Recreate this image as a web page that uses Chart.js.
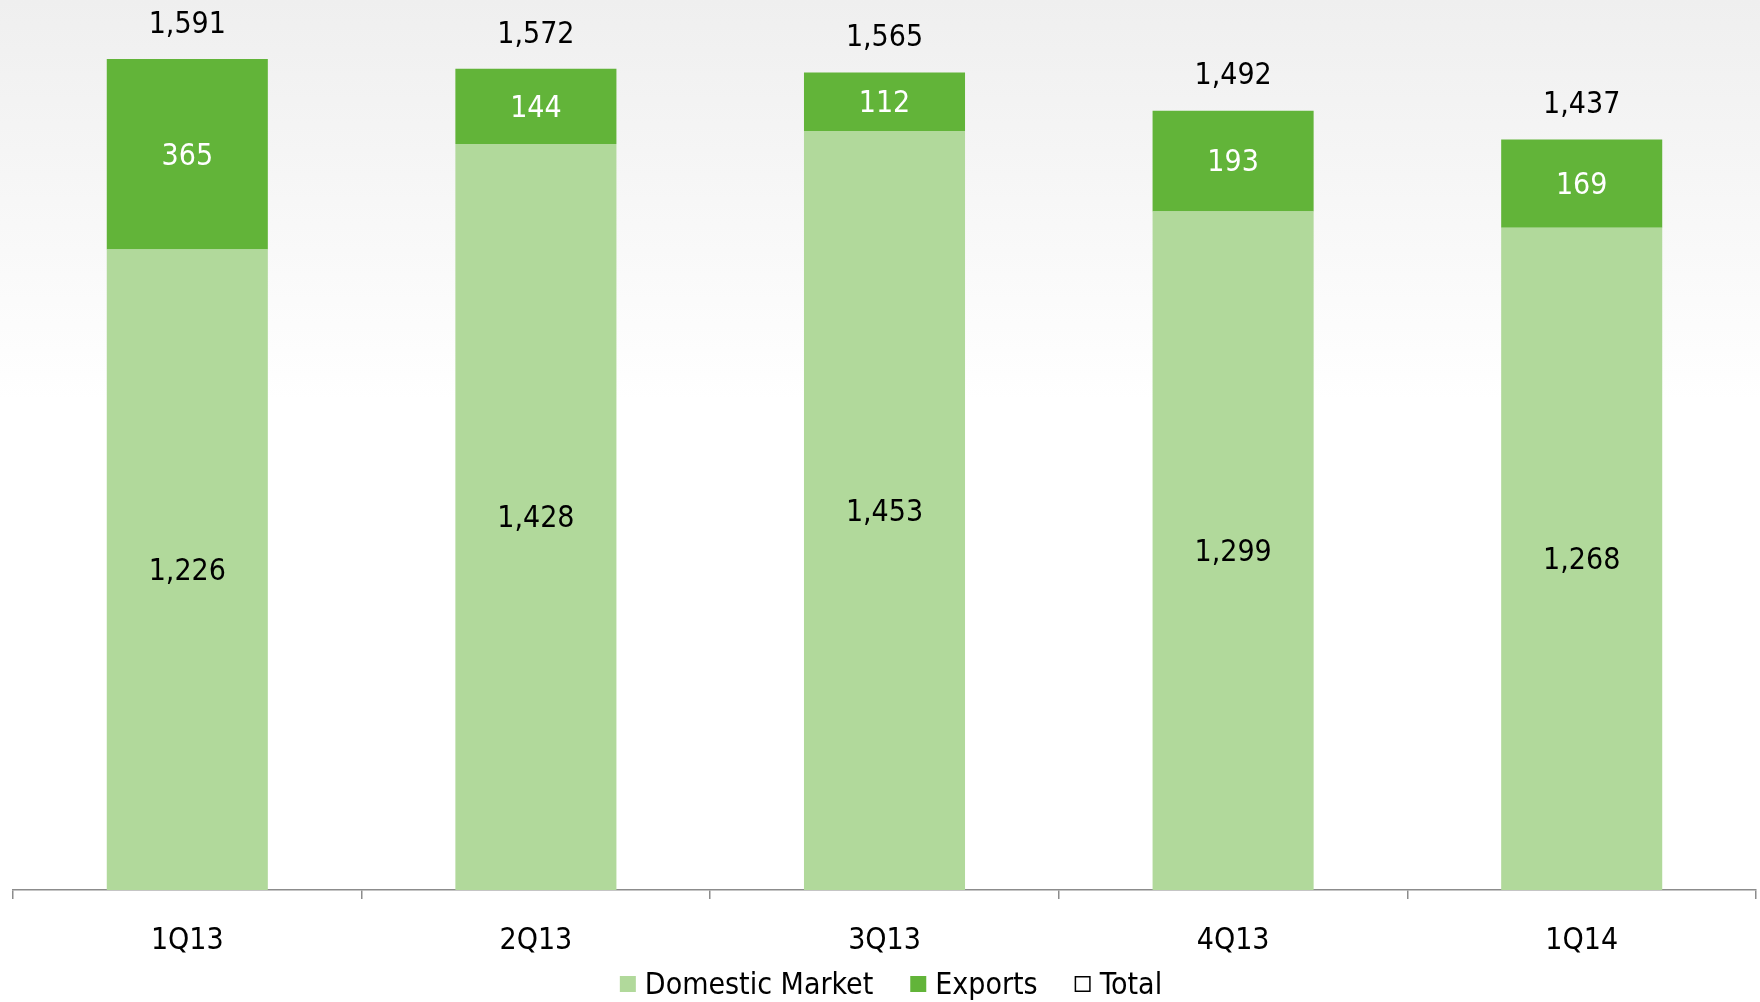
<!DOCTYPE html>
<html>
<head>
<meta charset="utf-8">
<style>
  html, body { margin: 0; padding: 0; background: #fff; }
  #wrap { width: 1760px; height: 1002px; position: relative; }
</style>
<script src="https://cdn.jsdelivr.net/npm/chart.js@4.4.1/dist/chart.umd.min.js"></script>
</head>
<body>
<div id="wrap"><canvas id="salesChart" width="1760" height="1002"></canvas></div>
<script>
const quarters = ["1Q13", "2Q13", "3Q13", "4Q13", "1Q14"];
const domestic = [1226, 1428, 1453, 1299, 1268];
const exportsVol = [365, 144, 112, 193, 169];
const totals = [1591, 1572, 1565, 1492, 1437];

const FONT = "'DejaVu Sans Condensed', 'DejaVu Sans', sans-serif";
const LIGHT = "#b1d99b";
const DARK = "#62b439";

function fmt(v) {
  return v.toLocaleString("en-US");
}

// soft grey wash at the top of the slide
const backdrop = {
  id: "backdrop",
  beforeDraw(chart) {
    const ctx = chart.ctx;
    const g = ctx.createLinearGradient(0, 0, 0, 400);
    g.addColorStop(0, "#efefef");
    g.addColorStop(1, "#ffffff");
    ctx.save();
    ctx.fillStyle = g;
    ctx.fillRect(0, 0, chart.width, chart.height);
    ctx.restore();
  }
};

// value labels inside the segments and totals above the stacks
const valueLabels = {
  id: "valueLabels",
  afterDatasetsDraw(chart) {
    const ctx = chart.ctx;
    ctx.save();
    ctx.font = "30px " + FONT;
    ctx.textAlign = "center";
    ctx.textBaseline = "middle";
    chart.data.datasets.forEach((ds, i) => {
      const meta = chart.getDatasetMeta(i);
      meta.data.forEach((el, j) => {
        const v = ds.data[j];
        if (ds.type === "line") {
          ctx.fillStyle = "#000";
          ctx.fillText(fmt(v), el.x, el.y - 34);
        } else {
          ctx.fillStyle = ds.labelColor;
          ctx.fillText(fmt(v), el.x, (el.y + el.base) / 2 + 2.5);
        }
      });
    });
    ctx.restore();
  }
};

// compact legend row under the axis (box, small gap, text)
const bottomLegend = {
  id: "bottomLegend",
  afterDraw(chart) {
    const ctx = chart.ctx;
    const box = 16, gap = 9, spacing = 37;
    ctx.save();
    ctx.font = "30px " + FONT;
    ctx.textBaseline = "middle";
    const items = chart.data.datasets.map(ds => ({
      text: ds.label,
      fill: ds.legendFill,
      stroke: ds.legendStroke,
      w: box + gap + ctx.measureText(ds.label).width
    }));
    const total = items.reduce((s, it) => s + it.w, 0) + spacing * (items.length - 1);
    let x = chart.width / 2 + 11 - total / 2;
    const y = chart.height - 18;
    items.forEach(it => {
      ctx.fillStyle = it.fill;
      ctx.fillRect(x, y - box / 2, box, box);
      if (it.stroke) {
        ctx.strokeStyle = it.stroke;
        ctx.lineWidth = 1.5;
        ctx.strokeRect(x + 0.75, y - box / 2 + 0.75, box - 1.5, box - 1.5);
      }
      ctx.fillStyle = "#000";
      ctx.fillText(it.text, x + box + gap, y + 2);
      x += it.w + spacing;
    });
    ctx.restore();
  }
};

new Chart(document.getElementById("salesChart"), {
  data: {
    labels: quarters,
    datasets: [
      {
        type: "bar",
        label: "Domestic Market",
        data: domestic,
        backgroundColor: LIGHT,
        legendFill: LIGHT,
        labelColor: "#000",
        barPercentage: 0.462,
        categoryPercentage: 1
      },
      {
        type: "bar",
        label: "Exports",
        data: exportsVol,
        backgroundColor: DARK,
        legendFill: DARK,
        labelColor: "#fff",
        barPercentage: 0.462,
        categoryPercentage: 1
      },
      {
        type: "line",
        label: "Total",
        data: totals,
        showLine: false,
        pointRadius: 0,
        borderColor: "#000",
        backgroundColor: "#fff",
        legendFill: "#fff",
        legendStroke: "#000"
      }
    ]
  },
  options: {
    responsive: false,
    animation: false,
    layout: { padding: { left: 13, right: 4, top: 2, bottom: 43 } },
    scales: {
      x: {
        stacked: true,
        offset: true,
        border: { display: true, color: "#8c8c8c", width: 1.5 },
        grid: {
          offset: true,
          drawOnChartArea: false,
          drawTicks: true,
          tickLength: 9,
          color: "#8c8c8c",
          lineWidth: 1.5
        },
        ticks: {
          color: "#000",
          padding: 24,
          font: { family: FONT, size: 30 }
        },
        // tick padding is counted twice by the fit, trim the band back
        afterFit(scale) {
          scale.height = 69;
        }
      },
      y: {
        stacked: true,
        display: false,
        min: 0,
        max: 1700
      }
    },
    plugins: {
      tooltip: { enabled: false },
      legend: { display: false }
    }
  },
  plugins: [backdrop, valueLabels, bottomLegend]
});
</script>
</body>
</html>
